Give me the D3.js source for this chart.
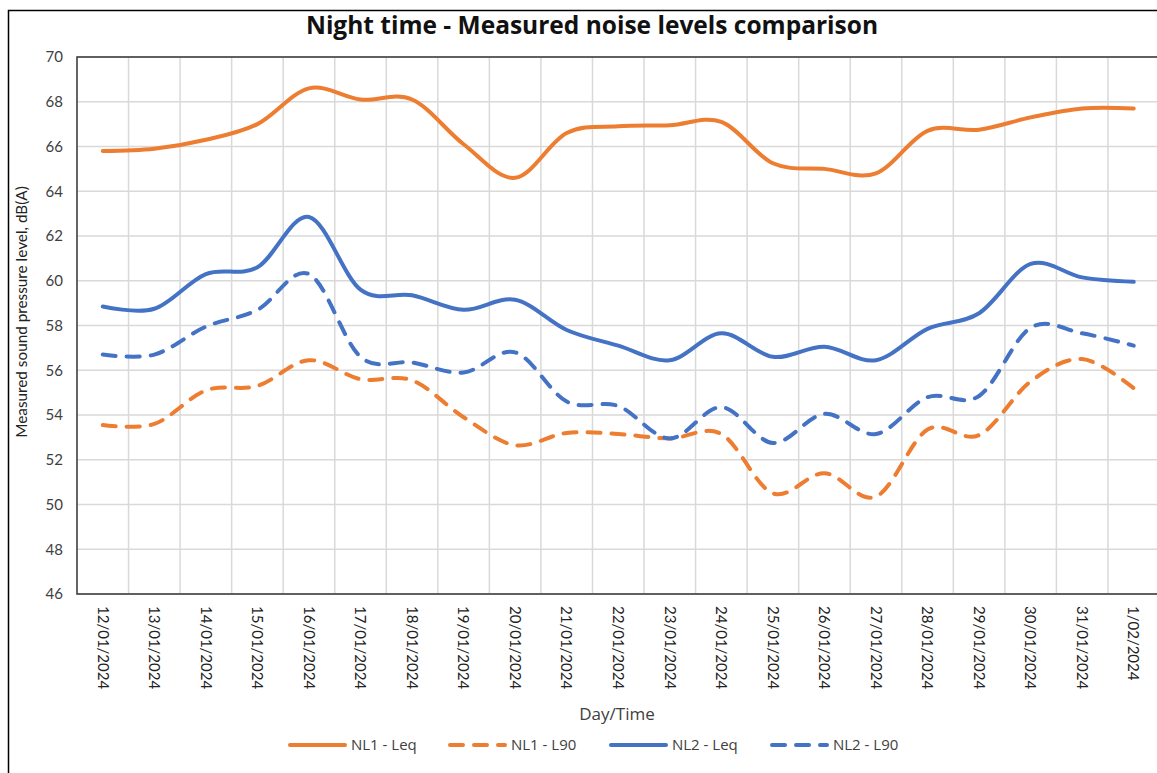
<!DOCTYPE html>
<html>
<head>
<meta charset="utf-8">
<script src="https://cdn.jsdelivr.net/npm/d3@7"></script>
<style>
  body { margin: 0; background: #fff; }
  text { font-family: Lato, "Open Sans", sans-serif; }
</style>
</head>
<body>
<svg id="chart" width="1157" height="773"></svg>
<script>
// Night time noise levels

const dates = [
  '12/01/2024','13/01/2024','14/01/2024','15/01/2024','16/01/2024','17/01/2024',
  '18/01/2024','19/01/2024','20/01/2024','21/01/2024','22/01/2024','23/01/2024',
  '24/01/2024','25/01/2024','26/01/2024','27/01/2024','28/01/2024','29/01/2024',
  '30/01/2024','31/01/2024','1/02/2024'
];

const nl1Leq = [65.8, 65.9, 66.3, 67.0, 68.6, 68.1, 68.1, 66.1, 64.6, 66.6, 66.9,
  66.95, 67.1, 65.25, 65.0, 64.8, 66.7, 66.75, 67.3, 67.7, 67.7];
const nl1L90 = [53.55, 53.6, 55.1, 55.3, 56.45, 55.6, 55.55, 53.9, 52.65, 53.2, 53.15,
  52.95, 53.15, 50.5, 51.4, 50.35, 53.35, 53.1, 55.5, 56.5, 55.2];
const nl2Leq = [58.85, 58.75, 60.3, 60.6, 62.85, 59.6, 59.35, 58.7, 59.15, 57.8, 57.1,
  56.45, 57.65, 56.6, 57.05, 56.45, 57.85, 58.55, 60.75, 60.15, 59.95];
const nl2L90 = [56.7, 56.7, 57.95, 58.7, 60.3, 56.6, 56.35, 55.9, 56.8, 54.6, 54.4,
  52.95, 54.35, 52.75, 54.05, 53.15, 54.8, 54.85, 57.9, 57.65, 57.1];

const yTicks = [46, 48, 50, 52, 54, 56, 58, 60, 62, 64, 66, 68, 70];

const series = [
  { name: 'NL1 - Leq', values: nl1Leq, color: '#ED7D31', dash: null },
  { name: 'NL1 - L90', values: nl1L90, color: '#ED7D31', dash: '13,11' },
  { name: 'NL2 - Leq', values: nl2Leq, color: '#4472C4', dash: null },
  { name: 'NL2 - L90', values: nl2L90, color: '#4472C4', dash: '13,11' }
];

const svg = d3.select('#chart');
const plot = { left: 77, top: 57, right: 1159.5, bottom: 594 };

// outer chart border
svg.append('rect')
  .attr('x', 8.5).attr('y', 10.5)
  .attr('width', 1170).attr('height', 775)
  .attr('fill', '#fff')
  .attr('stroke', '#000')
  .attr('stroke-width', 1.5);

const x = d3.scaleBand()
  .domain(dates)
  .range([plot.left, plot.right]);

const y = d3.scaleLinear()
  .domain([46, 70])
  .range([plot.bottom, plot.top]);

// horizontal grid
svg.append('g')
  .selectAll('line')
  .data(yTicks)
  .enter()
  .append('line')
  .attr('x1', plot.left).attr('x2', plot.right)
  .attr('y1', (d) => y(d)).attr('y2', (d) => y(d))
  .attr('stroke', '#d9d9d9')
  .attr('stroke-width', 1.5);

// vertical grid at category boundaries
svg.append('g')
  .selectAll('line')
  .data(dates.slice(1))
  .enter()
  .append('line')
  .attr('x1', (d) => x(d)).attr('x2', (d) => x(d))
  .attr('y1', plot.top).attr('y2', plot.bottom)
  .attr('stroke', '#d9d9d9')
  .attr('stroke-width', 1.5);

// plot border
svg.append('rect')
  .attr('x', plot.left).attr('y', plot.top)
  .attr('width', plot.right - plot.left).attr('height', plot.bottom - plot.top)
  .attr('fill', 'none')
  .attr('stroke', '#404040')
  .attr('stroke-width', 1.6);

// y axis labels
const yAxis = svg.append('g')
  .attr('transform', `translate(${plot.left},0)`)
  .call(d3.axisLeft(y).tickValues(yTicks).tickSize(0).tickPadding(14));
yAxis.select('.domain').remove();
yAxis.selectAll('text')
  .style('font-size', '15px')
  .style('font-family', 'Lato, sans-serif')
  .attr('fill', '#404040');

// x axis labels (rotated, top to bottom)
const xAxis = svg.append('g')
  .attr('transform', `translate(0,${plot.bottom})`)
  .call(d3.axisBottom(x).tickSize(0));
xAxis.select('.domain').remove();
xAxis.selectAll('text')
  .attr('transform', 'rotate(90)')
  .attr('x', 12)
  .attr('y', 0)
  .attr('dy', '0.35em')
  .style('text-anchor', 'start')
  .style('font-size', '15px')
  .style('font-family', 'Lato, sans-serif')
  .attr('fill', '#222');

// lines
const line = d3.line()
  .x((d, i) => x(dates[i]) + x.bandwidth() / 2)
  .y((d) => y(d))
  .curve(d3.curveCatmullRom.alpha(0));

series.forEach((s) => {
  svg.append('path')
    .datum(s.values)
    .attr('d', line)
    .attr('fill', 'none')
    .attr('stroke', s.color)
    .attr('stroke-width', 4)
    .attr('stroke-linecap', 'round')
    .attr('stroke-dasharray', s.dash);
});

// title
svg.append('text')
  .attr('x', 592).attr('y', 34)
  .attr('text-anchor', 'middle')
  .style('font-family', '"Open Sans", sans-serif')
  .style('font-size', '24.5px')
  .style('font-weight', 'bold')
  .attr('fill', '#111')
  .text('Night time - Measured noise levels comparison');

// axis titles
svg.append('text')
  .attr('x', 617).attr('y', 720)
  .attr('text-anchor', 'middle')
  .style('font-family', '"Open Sans", sans-serif')
  .style('font-size', '17px')
  .attr('fill', '#404040')
  .text('Day/Time');

svg.append('text')
  .attr('transform', 'translate(22,312) rotate(-90)')
  .attr('dy', '0.35em')
  .attr('text-anchor', 'middle')
  .style('font-size', '15.3px')
  .attr('fill', '#222')
  .text('Measured sound pressure level, dB(A)');

// legend
const legendX = [288, 448, 609, 770];
const legend = svg.append('g');
series.forEach((s, i) => {
  const g = legend.append('g').attr('transform', `translate(${legendX[i]},745)`);
  g.append('line')
    .attr('x1', 2).attr('x2', 57)
    .attr('stroke', s.color)
    .attr('stroke-width', 4)
    .attr('stroke-linecap', 'round')
    .attr('stroke-dasharray', s.dash);
  g.append('text')
    .attr('x', 63).attr('dy', '0.35em')
    .style('font-family', '"Open Sans", sans-serif')
    .style('font-size', '15px')
    .attr('fill', '#404040')
    .text(s.name);
});
</script>
</body>
</html>
